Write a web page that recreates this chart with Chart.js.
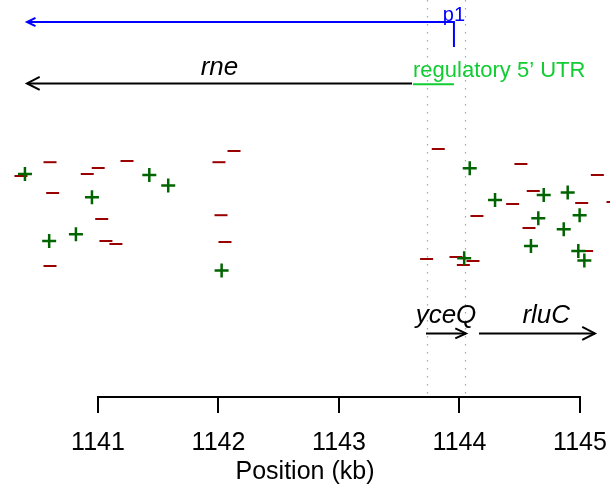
<!DOCTYPE html>
<html>
<head>
<meta charset="utf-8">
<script src="https://cdn.jsdelivr.net/npm/chart.js@4.4.1/dist/chart.umd.min.js"></script>
<style>
  html, body { margin: 0; padding: 0; background: #fff; }
</style>
</head>
<body>
<canvas id="myChart" width="610" height="495"></canvas>
<script>
// reads on the minus strand (dashes) and plus strand (crosses), position in kb
const minusPos = [1140.361, 1140.602, 1140.624, 1140.602, 1140.911, 1141.002, 1141.031, 1141.066, 1141.149, 1141.241,
  1142.004, 1142.129, 1142.021, 1142.054, 1143.824, 1144.145, 1144.441, 1144.510, 1144.612, 1144.577,
  1145.014, 1145.144, 1145.274, 1145.055, 1143.727, 1143.971, 1144.032, 1144.112];
const minusVal = [11.05, 11.74, 10.2, 6.55, 11.15, 11.45, 8.9, 7.8, 7.65, 11.8,
  11.74, 12.3, 9.09, 7.75, 12.4, 9.05, 9.65, 11.65, 10.3, 8.45,
  9.7, 11.1, 9.75, 7.3, 6.9, 7.0, 6.6, 6.8];
const plusPos = [1140.394, 1140.595, 1140.817, 1140.95, 1141.426, 1141.583, 1142.026, 1144.085, 1144.295,
  1144.699, 1144.654, 1144.593, 1144.898, 1144.997, 1144.865, 1144.986, 1145.036, 1144.039];
const plusVal = [11.15, 7.8, 8.14, 9.99, 11.1, 10.57, 6.32, 11.44, 9.85,
  10.1, 8.94, 7.55, 10.22, 9.09, 8.39, 7.3, 6.82, 6.94];

const xTicks = [1141, 1142, 1143, 1144, 1145];

// genes: arrow runs from -> to
const geneNames = ['rne', 'yceQ', 'rluC'];
const geneFrom = [1143.606, 1143.722, 1144.162];
const geneTo = [1140.411, 1144.054, 1145.124];
const geneRow = [15.68, 3.18, 3.18];
const geneLabelPos = [1142.008, 1143.888, 1144.72];

const promoterName = 'p1';
const promoterPos = 1143.954;
const promoterTo = 1140.411;

const utrName = 'regulatory 5\u2019 UTR';
const utrFrom = 1143.614;
const utrTo = 1143.954;

const markLines = [1143.728, 1144.046];

const FONT = '"Liberation Sans", Arial, Helvetica, sans-serif';

function arrow(ctx, x0, x1, py, len, half, color, width) {
  ctx.strokeStyle = color;
  ctx.lineWidth = width;
  ctx.beginPath();
  ctx.moveTo(x0, py);
  ctx.lineTo(x1, py);
  ctx.stroke();
  const dir = x1 > x0 ? 1 : -1;
  ctx.beginPath();
  ctx.moveTo(x1 - dir * len, py - half);
  ctx.lineTo(x1, py);
  ctx.lineTo(x1 - dir * len, py + half);
  ctx.stroke();
}

const genomePlugin = {
  id: 'genome',
  beforeDatasetsDraw(chart) {
    const {ctx, chartArea, scales: {x}} = chart;
    ctx.save();
    // axis line only spans the first to last tick
    ctx.strokeStyle = '#000';
    ctx.lineWidth = 2;
    ctx.beginPath();
    ctx.moveTo(x.getPixelForValue(xTicks[0]) - 1, chartArea.bottom);
    ctx.lineTo(x.getPixelForValue(xTicks[xTicks.length - 1]) + 1, chartArea.bottom);
    ctx.stroke();

    ctx.strokeStyle = '#9aa6c8';
    ctx.lineWidth = 1.2;
    ctx.setLineDash([1.5, 6.5]);
    markLines.forEach(v => {
      const px = Math.round(x.getPixelForValue(v)) + 0.5;
      ctx.beginPath();
      ctx.moveTo(px, 0);
      ctx.lineTo(px, chartArea.bottom - 2);
      ctx.stroke();
    });
    ctx.restore();
  },
  afterDatasetsDraw(chart) {
    const {ctx, scales: {x, y}} = chart;
    ctx.save();
    ctx.lineCap = 'butt';

    // promoter p1
    const pX = x.getPixelForValue(promoterPos);
    const pTop = y.getPixelForValue(18.75);
    const pBot = y.getPixelForValue(17.5);
    ctx.strokeStyle = '#0000ff';
    ctx.lineWidth = 2;
    ctx.beginPath();
    ctx.moveTo(pX, pBot);
    ctx.lineTo(pX, pTop);
    ctx.stroke();
    arrow(ctx, pX + 1, x.getPixelForValue(promoterTo), pTop, 8.5, 4.2, '#0000ff', 2);
    ctx.fillStyle = '#0000ff';
    ctx.font = '20px ' + FONT;
    ctx.textAlign = 'center';
    ctx.textBaseline = 'alphabetic';
    ctx.fillText(promoterName, pX, pTop - 1);

    // genes
    geneNames.forEach((name, i) => {
      const py = y.getPixelForValue(geneRow[i]);
      const x0 = x.getPixelForValue(geneFrom[i]);
      const x1 = x.getPixelForValue(geneTo[i]);
      const big = Math.abs(x1 - x0) > 60;
      arrow(ctx, x0, x1, py, big ? 12.7 : 10.7, big ? 6.5 : 5, '#000', 2);
      ctx.fillStyle = '#000';
      ctx.font = 'italic 26px ' + FONT;
      ctx.textAlign = 'center';
      ctx.fillText(name, x.getPixelForValue(geneLabelPos[i]), py - (i === 0 ? 8.5 : 10));
    });

    // regulatory UTR
    const uy = y.getPixelForValue(15.64);
    const u0 = x.getPixelForValue(utrFrom);
    ctx.strokeStyle = '#11cc33';
    ctx.lineWidth = 2;
    ctx.beginPath();
    ctx.moveTo(u0, uy);
    ctx.lineTo(x.getPixelForValue(utrTo), uy);
    ctx.stroke();
    ctx.fillStyle = '#11cc33';
    ctx.font = '22px ' + FONT;
    ctx.textAlign = 'left';
    ctx.fillText(utrName, u0, uy - 7);

    ctx.restore();
  }
};

const ctx = document.getElementById('myChart');

const myChart = new Chart(ctx, {
  type: 'scatter',
  data: {
    datasets: [{
      data: plusPos.map((v, i) => ({x: v, y: plusVal[i]})),
      pointStyle: 'cross',
      pointRadius: 7,
      pointBorderWidth: 2.5,
      borderColor: '#006400',
      backgroundColor: '#006400',
      clip: false
    }, {
      data: minusPos.map((v, i) => ({x: v, y: minusVal[i]})),
      pointStyle: 'line',
      pointRadius: 6.5,
      pointBorderWidth: 2,
      borderColor: '#990000',
      backgroundColor: '#990000',
      clip: false
    }]
  },
  options: {
    responsive: false,
    animation: false,
    devicePixelRatio: 1,
    events: [],
    layout: {
      autoPadding: false,
      padding: 0
    },
    plugins: {
      legend: {display: false},
      tooltip: {enabled: false}
    },
    scales: {
      x: {
        type: 'linear',
        min: 1140.187,
        max: 1145.249,
        afterBuildTicks: s => { s.ticks = xTicks.map(v => ({value: v})); },
        afterFit: s => { s.paddingLeft = 0; s.paddingRight = 0; },
        ticks: {
          color: '#000',
          padding: 15,
          maxRotation: 0,
          autoSkip: false,
          font: {family: FONT, size: 25},
          callback: v => String(v)
        },
        grid: {
          drawOnChartArea: false,
          drawTicks: true,
          tickLength: 16,
          color: '#000',
          lineWidth: 2
        },
        border: {display: false},
        title: {
          display: true,
          text: 'Position (kb)',
          color: '#000',
          font: {family: FONT, size: 25, lineHeight: 1.2},
          padding: {top: -16, bottom: 8}
        }
      },
      y: {
        display: false,
        min: 0,
        max: 19.85
      }
    }
  },
  plugins: [genomePlugin]
});
</script>
</body>
</html>
